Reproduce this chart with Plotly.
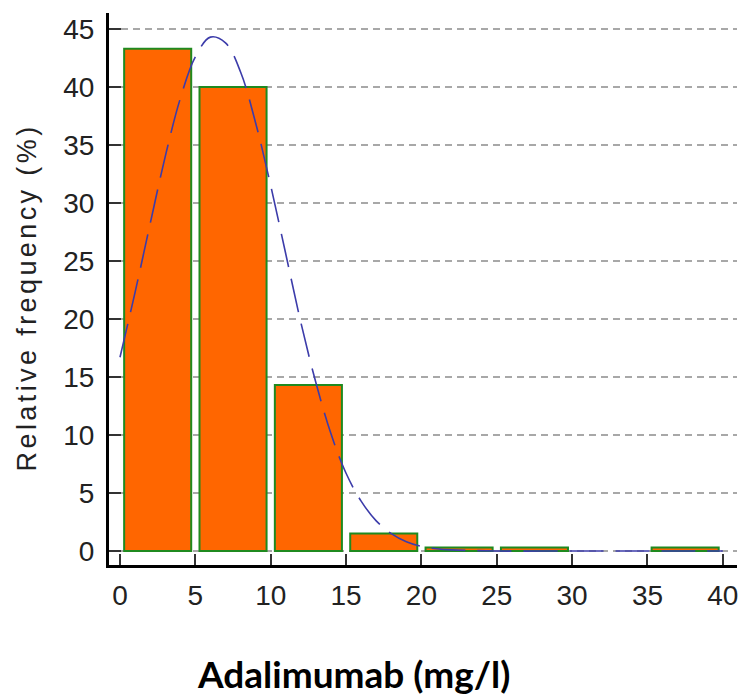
import plotly.graph_objects as go

# Histogram of adalimumab concentrations (bins of 5 mg/l) with fitted normal curve
bin_starts = [0, 5, 10, 15, 20, 25, 30, 35]
bin_width = 5
rel_freq = [43.3, 40.0, 14.3, 1.5, 0.3, 0.3, 0.0, 0.3]

curve_x = [0, 1, 2, 3, 4, 5, 6, 7, 8, 9, 10, 11, 12, 13, 14, 15, 16, 17, 18, 19, 20, 21, 22, 25, 30, 35, 40]
curve_y = [16.7, 22.3, 28.2, 34.0, 39.0, 42.6, 44.3, 43.8, 41.3, 36.9, 31.5, 25.6, 19.7, 14.5,
           10.1, 6.7, 4.3, 2.6, 1.5, 0.8, 0.4, 0.2, 0.1, 0.0, 0.0, 0.0, 0.0]

x_ticks = [0, 5, 10, 15, 20, 25, 30, 35, 40]
y_ticks = [0, 5, 10, 15, 20, 25, 30, 35, 40, 45]

centers = [s + bin_width / 2 for s in bin_starts]
heights = [v if v > 0 else None for v in rel_freq]

tick_font = dict(family="Liberation Sans", size=28, color="#222222")

fig = go.Figure()
fig.add_trace(go.Bar(
    x=centers, y=heights, width=bin_width * 0.89,
    marker=dict(color="#ff6600", line=dict(color="#1f8a1f", width=2)),
    hoverinfo="x+y",
))
fig.add_trace(go.Scatter(
    x=curve_x, y=curve_y, mode="lines",
    line=dict(color="#3c3caa", width=1.6, dash="34px,12px", shape="spline"),
))

fig.update_layout(
    width=739, height=695,
    margin=dict(l=109, r=2, t=13, b=130),
    paper_bgcolor="white", plot_bgcolor="white",
    showlegend=False,
    xaxis=dict(
        range=[-0.73, 40.94], tickvals=x_ticks, ticks="inside", ticklen=11,
        tickwidth=1.5, tickcolor="#333333", showgrid=False, zeroline=False,
        showline=True, linecolor="black", linewidth=3,
        tickfont=tick_font, ticklabelstandoff=3,
    ),
    yaxis=dict(
        range=[-1.207, 46.38], tickvals=y_ticks, ticks="inside", ticklen=12,
        tickwidth=1.5, tickcolor="#333333", showgrid=True, gridcolor="#a8a8a8",
        griddash="7px,5px", gridwidth=2, zeroline=False,
        showline=True, linecolor="black", linewidth=3,
        tickfont=tick_font, ticklabelstandoff=6,
    ),
    annotations=[
        dict(text="Relative frequency (%)", xref="paper", yref="paper",
             x=(27 - 109) / 628, y=(565 - 298) / 552, textangle=-90, showarrow=False,
             xanchor="center", yanchor="middle",
             font=dict(family="Liberation Sans", size=27, color="#222222")),
        dict(text="<b>Adalimumab (mg/l)</b>", xref="paper", yref="paper",
             x=(353 - 109) / 628, y=(565 - 673) / 552, showarrow=False,
             xanchor="center", yanchor="middle",
             font=dict(family="Lato, Open Sans, sans-serif", size=37, color="black")),
    ],
)

# Open up the letter spacing of the rotated y-axis title
spacing_js = """
document.querySelectorAll('.annotation-text').forEach(function (t) {
  if (t.textContent.indexOf('Relative') === 0) { t.style.letterSpacing = '3.4px'; }
});
"""

fig.write_html("out.html", post_script=spacing_js)
